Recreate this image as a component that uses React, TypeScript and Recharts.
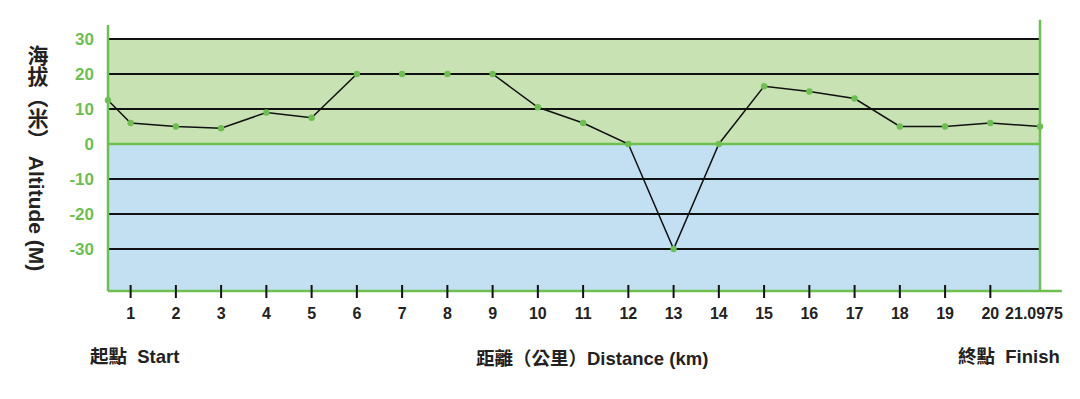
import {
  LineChart,
  Line,
  XAxis,
  YAxis,
  ReferenceArea,
  ReferenceLine,
} from "recharts";

// distance along the course (km) and altitude (m) read from the profile
const DISTANCE = [0.5, 1, 2, 3, 4, 5, 6, 7, 8, 9, 10, 11, 12, 13, 14, 15, 16, 17, 18, 19, 20, 21.0975];
const ALTITUDE = [12.5, 6, 5, 4.5, 9, 7.5, 20, 20, 20, 20, 10.5, 6, 0, -30, 0, 16.5, 15, 13, 5, 5, 6, 5];

const X_TICKS = [1, 2, 3, 4, 5, 6, 7, 8, 9, 10, 11, 12, 13, 14, 15, 16, 17, 18, 19, 20, 21.0975];
const Y_TICKS = [30, 20, 10, 0, -10, -20, -30];
const GRID_LINES = [30, 20, 10, -10, -20, -30];

const GREEN = "#6cbf50";
const GREEN_FILL = "#c9e2b3";
const BLUE_FILL = "#c3e0f3";
const FONT = "'Liberation Sans', Arial, 'Noto Sans CJK TC', sans-serif";

const data = DISTANCE.map((km, i) => ({ km, alt: ALTITUDE[i] }));

const XTick = (props: any) => {
  const { x, y, payload } = props;
  const isFinish = payload.value > 21;
  return (
    <g>
      {!isFinish && <line x1={x} x2={x} y1={y - 6} y2={y + 7} stroke="#111" strokeWidth={2} />}
      <text
        x={isFinish ? x - 6 : x}
        y={y + 28}
        textAnchor="middle"
        fontSize={16}
        fontWeight="bold"
        fill="#222"
        fontFamily={FONT}
      >
        {payload.value}
      </text>
    </g>
  );
};

const labelStyle: React.CSSProperties = {
  position: "absolute",
  fontFamily: FONT,
  fontWeight: "bold",
  fontSize: 18.5,
  color: "#222",
  whiteSpace: "pre",
  lineHeight: "20px",
};

export default function App() {
  return (
    <div style={{ position: "absolute", left: 0, top: 0, width: 1080, height: 399, background: "#fff" }}>
      <LineChart width={1080} height={399} data={data} margin={{ top: 25, right: 40, left: 0, bottom: 78 }}>
        <ReferenceArea y1={0} y2={30} fill={GREEN_FILL} fillOpacity={1} stroke="none" />
        <ReferenceArea y1={-42} y2={0} fill={BLUE_FILL} fillOpacity={1} stroke="none" />
        {GRID_LINES.map((v) => (
          <ReferenceLine key={v} y={v} stroke="#111" strokeWidth={2} />
        ))}
        <ReferenceLine y={0} stroke={GREEN} strokeWidth={2.5} />
        <ReferenceLine
          segment={[{ x: 21.0975, y: -42 }, { x: 21.0975, y: 35.5 }]}
          stroke={GREEN}
          strokeWidth={2.5}
          ifOverflow="visible"
        />
        <ReferenceLine
          segment={[{ x: 0.5, y: -42 }, { x: 21.58, y: -42 }]}
          stroke={GREEN}
          strokeWidth={2.5}
          ifOverflow="visible"
        />
        <XAxis
          dataKey="km"
          type="number"
          domain={[0.5, 21.0975]}
          ticks={X_TICKS}
          interval={0}
          axisLine={false}
          tickLine={false}
          tickSize={0}
          tickMargin={0}
          height={30}
          tick={<XTick />}
        />
        <YAxis
          type="number"
          domain={[-42, 34]}
          ticks={Y_TICKS}
          interval={0}
          width={108}
          axisLine={{ stroke: GREEN, strokeWidth: 2.5 }}
          tickLine={false}
          tickSize={0}
          tickMargin={14}
          tick={{ fill: GREEN, fontSize: 17, fontWeight: "bold", fontFamily: FONT }}
        />
        <Line
          dataKey="alt"
          type="linear"
          stroke="#111"
          strokeWidth={1.5}
          dot={{ r: 3.2, fill: GREEN, stroke: "none" }}
          isAnimationActive={false}
        />
      </LineChart>

      <div
        style={{
          ...labelStyle,
          left: 24,
          top: 45,
          writingMode: "vertical-rl",
          fontSize: 21,
          lineHeight: "24px",
        }}
      >
        {"海拔（米） Altitude (M)"}
      </div>
      <div style={{ ...labelStyle, left: 90, top: 347 }}>{"起點  Start"}</div>
      <div style={{ ...labelStyle, left: 476, top: 349 }}>{"距離（公里）Distance (km)"}</div>
      <div style={{ ...labelStyle, left: 958, top: 347 }}>{"終點  Finish"}</div>
    </div>
  );
}
